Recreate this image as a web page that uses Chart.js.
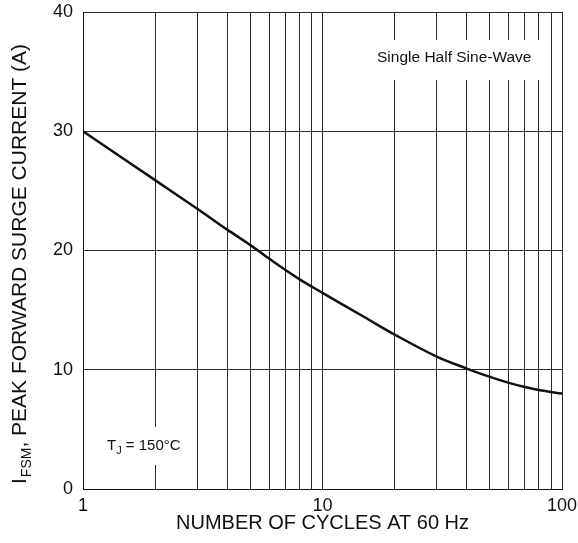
<!DOCTYPE html>
<html>
<head>
<meta charset="utf-8">
<script src="https://cdn.jsdelivr.net/npm/chart.js@4.4.1/dist/chart.umd.min.js"></script>
<style>
    body { margin: 0; background: #fff; }
    #wrap { width: 578px; height: 543px; position: relative; }
</style>
</head>
<body>
<div id="wrap"><canvas id="surgeChart"></canvas></div>
<script>
// Data
const cycles = [1, 2, 3, 4, 5, 6, 8, 10, 15, 20, 30, 40, 50, 60, 70, 80, 100];
const surgeCurrent = [30, 25.9, 23.5, 21.75, 20.45, 19.3, 17.6, 16.45, 14.4, 12.95, 11.1, 10.1, 9.4, 8.9, 8.55, 8.3, 8.0];

// Grid / tick values
const xGridValues = [1, 2, 3, 4, 5, 6, 7, 8, 9, 10, 20, 30, 40, 50, 60, 70, 80, 90, 100];
const xTickLabels = ['1', '10', '100'];
const yTickValues = [0, 10, 20, 30, 40];

const FONT = 'Liberation Sans, Arial, sans-serif';
const GRID = '#2a2a2a';

// Titles and notes, drawn on canvas (subscripts need manual layout)
const annotationPlugin = {
    id: 'annotations',
    beforeDatasetsDraw(chart) {
        const ctx = chart.ctx;
        ctx.save();

        // "Single Half Sine-Wave" box
        ctx.fillStyle = '#fff';
        ctx.fillRect(370, 40, 170, 40);
        ctx.fillStyle = '#111';
        ctx.font = '15.5px ' + FONT;
        ctx.textBaseline = 'middle';
        ctx.textAlign = 'left';
        ctx.fillText('Single Half Sine-Wave', 377, 58);

        // "TJ = 150°C" box
        ctx.fillStyle = '#fff';
        ctx.fillRect(100, 427, 95, 38);
        ctx.fillStyle = '#111';
        ctx.font = '15px ' + FONT;
        let px = 107;
        ctx.fillText('T', px, 446);
        px += ctx.measureText('T').width;
        ctx.font = '11px ' + FONT;
        ctx.fillText('J', px, 451);
        px += ctx.measureText('J').width;
        ctx.font = '15px ' + FONT;
        ctx.fillText(' = 150\u00B0C', px, 446);

        ctx.restore();
    },
    afterDraw(chart) {
        const ctx = chart.ctx;
        ctx.save();
        ctx.translate(26, 484);
        ctx.rotate(-Math.PI / 2);
        ctx.fillStyle = '#111';
        ctx.textBaseline = 'alphabetic';
        ctx.textAlign = 'left';
        let px = 0;
        ctx.font = '21px ' + FONT;
        ctx.fillText('I', px, 0);
        px += ctx.measureText('I').width + 1;
        ctx.font = '14px ' + FONT;
        ctx.fillText('FSM', px, 5);
        px += ctx.measureText('FSM').width;
        ctx.font = '21px ' + FONT;
        ctx.fillText(', PEAK FORWARD SURGE CURRENT (A)', px, 0);
        ctx.restore();
    }
};

function initSurgeChart() {
    const ctx = document.getElementById('surgeChart').getContext('2d');

    return new Chart(ctx, {
        type: 'line',
        data: {
            datasets: [
                {
                    label: 'IFSM',
                    data: cycles.map((c, i) => ({ x: c, y: surgeCurrent[i] })),
                    borderColor: '#111',
                    borderWidth: 2.5,
                    pointRadius: 0,
                    fill: false,
                    tension: 0.35
                }
            ]
        },
        options: {
            responsive: true,
            maintainAspectRatio: false,
            animation: false,
            layout: {
                padding: { top: 12, right: 16, left: 0, bottom: 0 }
            },
            scales: {
                x: {
                    type: 'logarithmic',
                    min: 1,
                    max: 100,
                    afterBuildTicks(scale) {
                        scale.ticks = xGridValues.map(v => ({ value: v }));
                    },
                    afterFit(scale) {
                        scale.height = 54;
                        scale.paddingLeft = 0;
                        scale.paddingRight = 0;
                    },
                    ticks: {
                        autoSkip: false,
                        maxRotation: 0,
                        padding: 6,
                        color: '#111',
                        font: { family: FONT, size: 18 },
                        callback: function(value) {
                            const s = String(value);
                            return xTickLabels.includes(s) ? s : '';
                        }
                    },
                    grid: {
                        color: GRID,
                        lineWidth: 1,
                        drawTicks: false
                    },
                    border: { color: '#111', width: 1 },
                    title: {
                        display: true,
                        text: 'NUMBER OF CYCLES AT 60 Hz',
                        color: '#111',
                        font: { family: FONT, size: 20 },
                        padding: { top: 0, bottom: 8 }
                    }
                },
                y: {
                    min: 0,
                    max: 40,
                    afterBuildTicks(scale) {
                        scale.ticks = yTickValues.map(v => ({ value: v }));
                    },
                    afterFit(scale) {
                        scale.width = 83;
                        scale.paddingTop = 0;
                        scale.paddingBottom = 0;
                    },
                    ticks: {
                        padding: 10,
                        color: '#111',
                        font: { family: FONT, size: 18 }
                    },
                    grid: {
                        color: GRID,
                        lineWidth: 1,
                        drawTicks: false
                    },
                    border: { color: '#111', width: 1 }
                }
            },
            plugins: {
                legend: { display: false },
                tooltip: { enabled: false }
            }
        },
        plugins: [annotationPlugin]
    });
}

document.addEventListener('DOMContentLoaded', () => {
    initSurgeChart();
});
</script>
</body>
</html>
